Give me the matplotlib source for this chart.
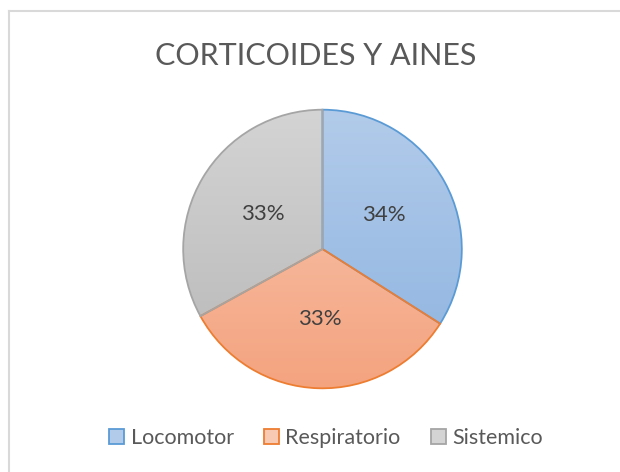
import numpy as np
import matplotlib.pyplot as plt
from matplotlib.colors import LinearSegmentedColormap
from matplotlib.patches import Patch
from matplotlib.lines import Line2D

plt.rcParams['font.family'] = ['Lato', 'DejaVu Sans']

title = 'CORTICOIDES Y AINES'
categories = ['Locomotor', 'Respiratorio', 'Sistemico']
values = [34, 33, 33]
top_colors = ['#b2cbea', '#f8c9b3', '#d4d4d4']
bottom_colors = ['#8db3e0', '#f4a37f', '#b7b7b7']
edge_colors = ['#5b9bd5', '#ed7d31', '#a5a5a5']

W, H = 620, 472
fig = plt.figure(figsize=(W / 100, H / 100), dpi=100)

# pie area (px): centre (322.5, 249), radius 139
cx, cy, r = 322.5, 249, 140
ax = fig.add_axes([(cx - r) / W, (H - cy - r) / H, 2 * r / W, 2 * r / H])
wedges, texts, autotexts = ax.pie(values, startangle=90, counterclock=False,
                                  radius=1, autopct='%1.0f%%', pctdistance=0.5,
                                  wedgeprops=dict(linewidth=1.3),
                                  textprops=dict(color='#404040', fontsize=16,
                                                 family=['Lato', 'DejaVu Sans']))
ax.set_xlim(-1.005, 1.005)
ax.set_ylim(-1.005, 1.005)
ax.set_aspect('equal')
ax.axis('off')

grad = np.linspace(0, 1, 256).reshape(-1, 1)
for w, tc, bc, ec in zip(wedges, top_colors, bottom_colors, edge_colors):
    cmap = LinearSegmentedColormap.from_list('g', [tc, bc])
    im = ax.imshow(grad, cmap=cmap, extent=(-1, 1, -1, 1), origin='upper',
                   aspect='auto', zorder=0.5)
    im.set_clip_path(w)
    w.set_facecolor('none')
    w.set_edgecolor(ec)
    w.set_zorder(1)
for t in autotexts:
    t.set_zorder(3)

fig.text(315.5 / W, 1 - 65 / H, title, ha='center', va='baseline',
         fontsize=22, color='#595959')

handles = [Patch(facecolor=tc, edgecolor=ec, linewidth=1.3)
           for tc, ec in zip(top_colors, edge_colors)]
fig.legend(handles, categories, loc='center', bbox_to_anchor=(326 / W, 1 - 438 / H),
           ncol=3, frameon=False, fontsize=15.5, labelcolor='#595959',
           handlelength=0.7, handleheight=0.7, handletextpad=0.3,
           columnspacing=1.4)

# chart border (only top and left edges fall inside the image)
fig.add_artist(Line2D([9 / W, 1], [1 - 11 / H, 1 - 11 / H], color='#d9d9d9', lw=1.5))
fig.add_artist(Line2D([9 / W, 9 / W], [1 - 11 / H, 0], color='#d9d9d9', lw=1.5))

fig.savefig('out.png', dpi=100, facecolor='white')
